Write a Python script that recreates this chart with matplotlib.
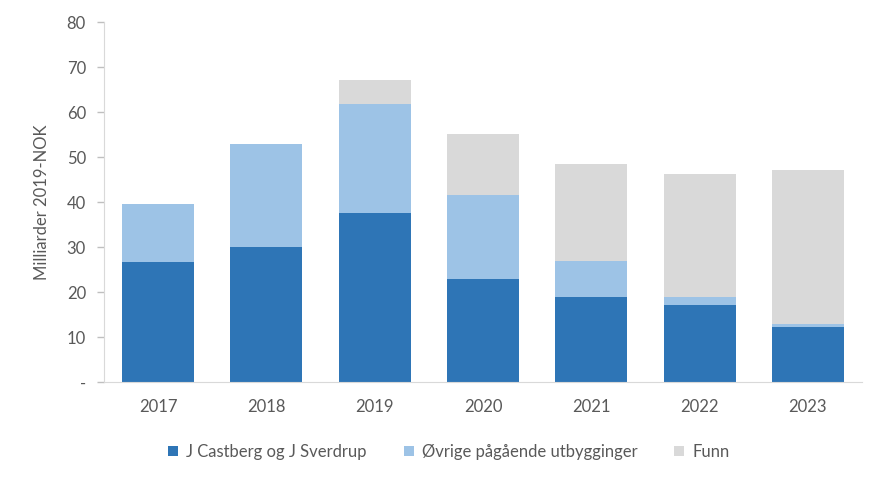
import matplotlib; matplotlib.use('Agg')
import matplotlib.pyplot as plt
import numpy as np

plt.rcParams['font.family'] = ['Lato', 'DejaVu Sans']

years = ['2017', '2018', '2019', '2020', '2021', '2022', '2023']
# verdier lest av figuren (milliarder 2019-NOK)
castberg = [26.6, 30.1, 37.5, 23.0, 18.8, 17.2, 12.3]
ovrige = [13.0, 22.9, 24.3, 18.5, 8.0, 1.8, 0.7]
funn = [0.0, 0.0, 5.3, 13.6, 21.6, 27.2, 34.1]

labels = ['J Castberg og J Sverdrup', 'Øvrige pågående utbygginger', 'Funn']
colors = ['#2E75B6', '#9DC3E6', '#D9D9D9']
txt = '#595959'

fig = plt.figure(figsize=(8.86, 4.79), dpi=100)
ax = fig.add_axes([0.1174, 0.2025, 0.8556, 0.7515])

x = np.arange(len(years))
w = 0.665
b1 = np.array(castberg)
b2 = b1 + np.array(ovrige)
ax.bar(x, castberg, w, color=colors[0], label=labels[0])
ax.bar(x, ovrige, w, bottom=b1, color=colors[1], label=labels[1])
ax.bar(x, funn, w, bottom=b2, color=colors[2], label=labels[2])

ax.set_xlim(-0.5, 6.5)
ax.set_ylim(0, 80)
ax.set_yticks(np.arange(0, 81, 10))
ax.set_yticklabels(['-'] + [str(v) for v in range(10, 81, 10)])
ax.set_xticks(x)
ax.set_xticklabels(years)
ax.tick_params(axis='y', colors='#BFBFBF', labelcolor=txt, labelsize=12, length=5, width=1, pad=8)
ax.tick_params(axis='x', length=0, labelcolor=txt, labelsize=12, pad=12)
for s in ['top', 'right']:
    ax.spines[s].set_visible(False)
ax.spines['left'].set_color('#D9D9D9')
ax.spines['bottom'].set_color('#D9D9D9')
ax.set_ylabel('Milliarder 2019-NOK', color=txt, fontsize=12, labelpad=12)

ax.legend(loc='upper center', bbox_to_anchor=(0.455, -0.13), ncol=3, frameon=False,
          fontsize=12, labelcolor=txt, handlelength=0.6, handleheight=0.6,
          columnspacing=2.2, handletextpad=0.5)

fig.savefig('out.png', dpi=100)
